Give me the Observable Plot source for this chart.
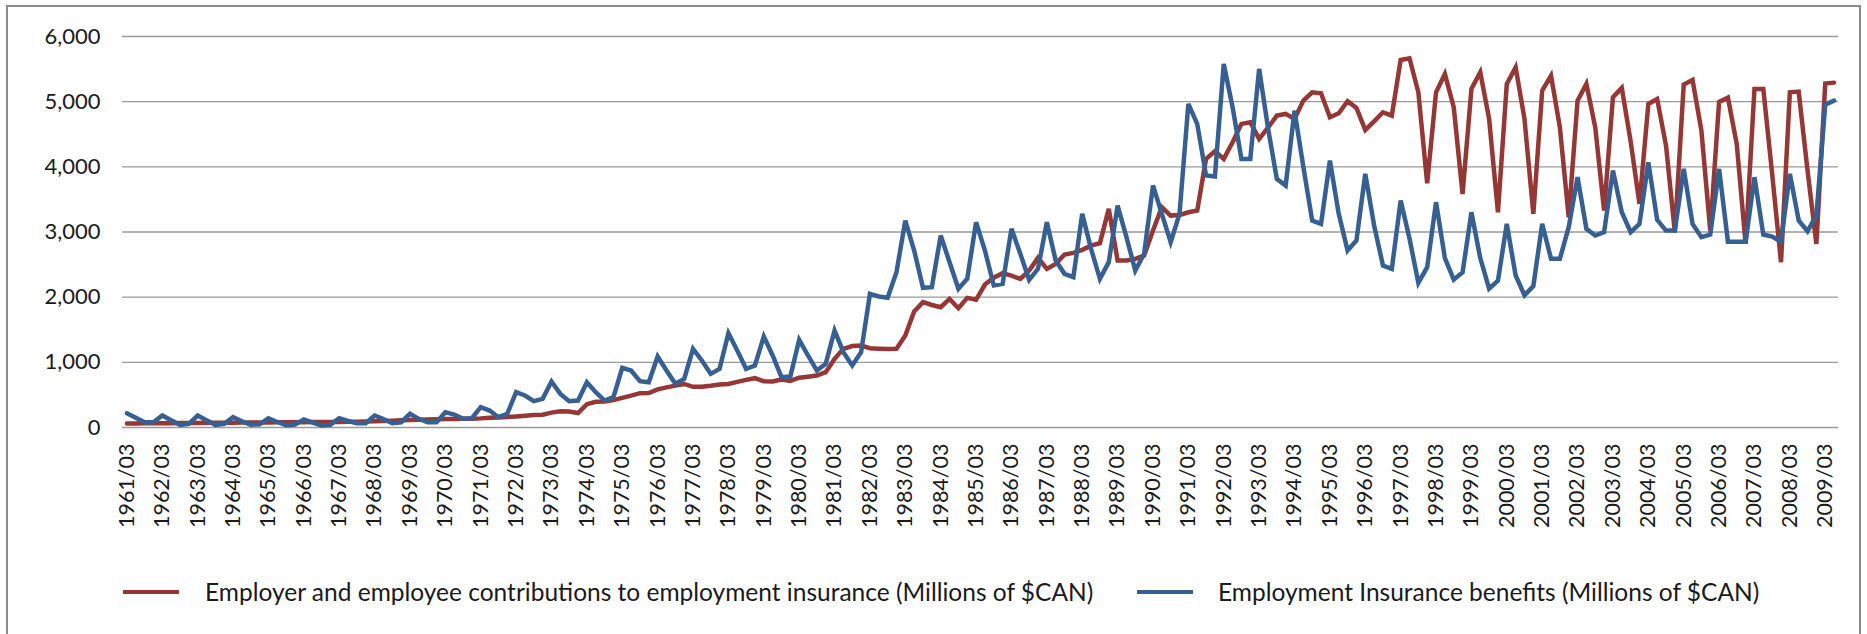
<!DOCTYPE html>
<html>
<head>
<meta charset="utf-8">
<script src="https://cdn.jsdelivr.net/npm/d3@7"></script>
<script src="https://cdn.jsdelivr.net/npm/@observablehq/plot@0.6"></script>
<style>
  html, body { margin: 0; padding: 0; background: #fff; overflow: hidden; }
  #wrap { position: relative; width: 1867px; height: 634px; font-family: Lato, "Open Sans", sans-serif; color: #1a1a1a; }
  #frame { position: absolute; left: 6px; top: 5px; width: 1855px; height: 650px; border: 2px solid #8c8c8c; box-sizing: border-box; pointer-events: none; }
  #chart { position: absolute; left: 0; top: 0; }
  .lg-swatch { position: absolute; height: 4px; width: 56px; }
  .lg-text { position: absolute; font-size: 24.5px; white-space: nowrap; line-height: 28px; }
</style>
</head>
<body>
<div id="wrap">
  <div id="chart"></div>
  <div id="legend"></div>
  <div id="frame"></div>
</div>
<script>
// ---- Data (quarterly, Millions of $CAN) ----
const years = d3.range(1961, 2010);
const quarterMonths = ["03", "06", "09", "12"];

// Employer and employee contributions to employment insurance
const contributions = [
  62, 63, 64, 65,         // 1961
  66, 67, 68, 69,         // 1962
  70, 71, 72, 73,         // 1963
  74, 75, 76, 77,         // 1964
  78, 79, 80, 81,         // 1965
  82, 83, 84, 85,         // 1966
  86, 88, 90, 92,         // 1967
  95, 100, 105, 110,      // 1968
  115, 120, 124, 128,     // 1969
  130, 132, 134, 135,     // 1970
  140, 148, 155, 160,     // 1971
  170, 180, 190, 197,     // 1972
  228, 250, 245, 222,     // 1973
  358, 395, 400, 420,     // 1974
  455, 490, 527, 530,     // 1975
  585, 615, 642, 668,     // 1976
  625, 625, 640, 660,     // 1977
  668, 700, 731, 757,     // 1978
  710, 706, 735, 715,     // 1979
  765, 780, 798, 849,     // 1980
  1053, 1207, 1250, 1258, // 1981
  1217, 1210, 1205, 1207, // 1982
  1411, 1780, 1923, 1880, // 1983
  1846, 1974, 1831, 1989, // 1984
  1960, 2194, 2300, 2368, // 1985
  2330, 2281, 2409, 2603, // 1986
  2434, 2511, 2655, 2680, // 1987
  2726, 2790, 2830, 3355, // 1988
  2562, 2562, 2588, 2639, // 1989
  3023, 3380, 3252, 3260, // 1990
  3303, 3329, 4122, 4240, // 1991
  4122, 4378, 4659, 4685, // 1992
  4429, 4600, 4786, 4812, // 1993
  4735, 5016, 5144, 5129, // 1994
  4760, 4822, 5006, 4904, // 1995
  4566, 4699, 4837, 4786, // 1996
  5640, 5666, 5144, 3747, // 1997
  5144, 5425, 4914, 3584, // 1998
  5195, 5451, 4735, 3303, // 1999
  5272, 5527, 4735, 3278, // 2000
  5170, 5400, 4607, 3226, // 2001
  5016, 5272, 4607, 3329, // 2002
  5067, 5211, 4392, 3431, // 2003
  4965, 5042, 4326, 2996, // 2004
  5262, 5333, 4556, 3022, // 2005
  4996, 5062, 4346, 2817, // 2006
  5195, 5195, 3891, 2536, // 2007
  5144, 5154, 3942, 2817, // 2008
  5277, 5292              // 2009
];

// Employment Insurance benefits
const benefits = [
  219, 150, 81, 81,       // 1961
  184, 110, 41, 55,       // 1962
  184, 110, 41, 55,       // 1963
  158, 95, 41, 50,        // 1964
  143, 85, 35, 45,        // 1965
  123, 75, 31, 40,        // 1966
  143, 100, 66, 66,       // 1967
  184, 130, 66, 81,       // 1968
  210, 133, 81, 81,       // 1969
  235, 199, 133, 143,     // 1970
  312, 260, 158, 210,     // 1971
  542, 491, 404, 440,     // 1972
  706, 516, 404, 414,     // 1973
  695, 542, 414, 465,     // 1974
  915, 874, 711, 695,     // 1975
  1089, 874, 670, 746,    // 1976
  1207, 1028, 823, 900,   // 1977
  1448, 1181, 900, 951,   // 1978
  1396, 1105, 772, 782,   // 1979
  1345, 1105, 874, 977,   // 1980
  1488, 1156, 951, 1156,  // 1981
  2051, 2010, 1990, 2383, // 1982
  3176, 2716, 2143, 2153, // 1983
  2946, 2537, 2128, 2281, // 1984
  3150, 2716, 2179, 2204, // 1985
  3048, 2665, 2266, 2434, // 1986
  3150, 2562, 2358, 2307, // 1987
  3278, 2741, 2281, 2537, // 1988
  3406, 2920, 2409, 2665, // 1989
  3713, 3278, 2844, 3278, // 1990
  4966, 4659, 3866, 3850, // 1991
  5579, 4914, 4122, 4122, // 1992
  5502, 4600, 3815, 3713, // 1993
  4862, 4000, 3175, 3124, // 1994
  4096, 3278, 2716, 2869, // 1995
  3892, 3100, 2485, 2434, // 1996
  3483, 2900, 2220, 2460, // 1997
  3457, 2600, 2270, 2380, // 1998
  3303, 2600, 2130, 2255, // 1999
  3124, 2332, 2030, 2170, // 2000
  3124, 2588, 2588, 3074, // 2001
  3841, 3048, 2946, 2997, // 2002
  3943, 3303, 2997, 3124, // 2003
  4070, 3186, 3022, 3022, // 2004
  3968, 3124, 2920, 2961, // 2005
  3968, 2852, 2852, 2852, // 2006
  3841, 2961, 2930, 2852, // 2007
  3892, 3176, 3012, 3252, // 2008
  4955, 5016              // 2009
];

const yTicks = [0, 1000, 2000, 3000, 4000, 5000, 6000];
const seriesNames = [
  "Employer and employee contributions to employment insurance (Millions of $CAN)",
  "Employment Insurance benefits (Millions of $CAN)"
];
const seriesColors = ["#953735", "#376092"];

// ---- Build ----
const quarters = years.flatMap(y => quarterMonths.map(m => `${y}/${m}`)).slice(0, contributions.length);
const xTickLabels = quarters.filter(q => q.endsWith("/03"));

const rows = [];
quarters.forEach((q, i) => {
  rows.push({q, v: contributions[i], s: seriesNames[0]});
  rows.push({q, v: benefits[i], s: seriesNames[1]});
});

const chart = Plot.plot({
  width: 1867,
  height: 560,
  marginLeft: 122,
  marginRight: 29,
  marginTop: 36,
  marginBottom: 133,
  style: {fontFamily: "Lato, 'Open Sans', sans-serif", color: "#1a1a1a", background: "transparent", overflow: "visible"},
  x: {type: "point", domain: quarters, padding: 0.5},
  y: {domain: [0, 6000]},
  color: {domain: seriesNames, range: seriesColors},
  marks: [
    Plot.ruleY(yTicks, {stroke: "#9a9a9a", strokeWidth: 1.3}),
    Plot.axisY({ticks: yTicks, tickFormat: d3.format(","), tickSize: 0, tickPadding: 22, fontSize: 22, label: null}),
    Plot.axisX({ticks: xTickLabels, tickSize: 0, tickPadding: 16, tickRotate: -90, fontSize: 21.5, label: null}),
    Plot.line(rows, {x: "q", y: "v", z: "s", stroke: "s", strokeWidth: 4.5, strokeLinejoin: "miter", strokeMiterlimit: 4})
  ]
});
document.getElementById("chart").appendChild(chart);

// ---- Legend (below the chart area) ----
const legend = document.getElementById("legend");
const legendPos = [{sx: 123, tx: 205}, {sx: 1137, tx: 1218}];
seriesNames.forEach((name, i) => {
  const sw = document.createElement("div");
  sw.className = "lg-swatch";
  sw.style.left = legendPos[i].sx + "px";
  sw.style.top = "590px";
  sw.style.background = seriesColors[i];
  legend.appendChild(sw);
  const t = document.createElement("div");
  t.className = "lg-text";
  t.style.left = legendPos[i].tx + "px";
  t.style.top = "578px";
  t.textContent = name;
  legend.appendChild(t);
});
</script>
</body>
</html>
